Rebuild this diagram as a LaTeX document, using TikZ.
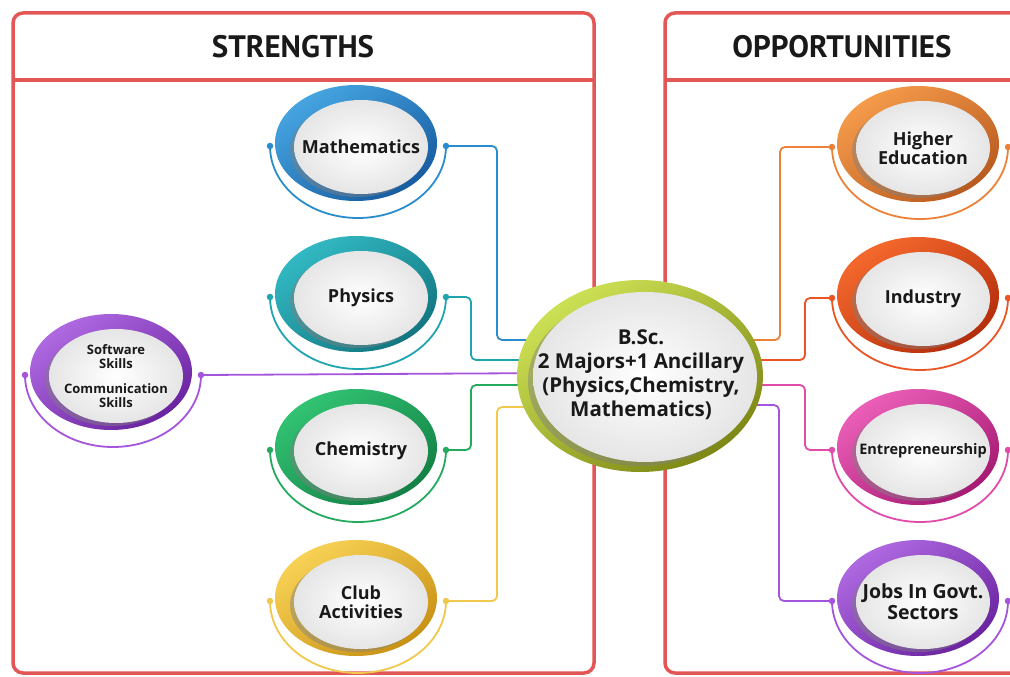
\documentclass[tikz,border=0pt]{standalone}
\usepackage{fontspec}
\setmainfont{Open Sans}
\newfontfamily\headfont{PT Sans}
\usetikzlibrary{shadows,calc}
\definecolor{boxred}{RGB}{226,86,86}
\definecolor{blueD}{RGB}{22,92,160}\definecolor{blueL}{RGB}{70,165,225}\definecolor{blueC}{RGB}{40,140,205}
\definecolor{tealD}{RGB}{18,118,128}\definecolor{tealL}{RGB}{50,185,195}\definecolor{tealC}{RGB}{30,165,175}
\definecolor{greenD}{RGB}{18,128,68}\definecolor{greenL}{RGB}{50,195,115}\definecolor{greenC}{RGB}{35,170,95}
\definecolor{goldD}{RGB}{200,145,20}\definecolor{goldL}{RGB}{248,210,85}\definecolor{goldC}{RGB}{240,200,75}
\definecolor{purpD}{RGB}{105,35,160}\definecolor{purpL}{RGB}{175,105,225}\definecolor{purpC}{RGB}{165,85,220}
\definecolor{oranD}{RGB}{185,90,30}\definecolor{oranL}{RGB}{245,155,75}\definecolor{oranC}{RGB}{235,130,55}
\definecolor{redD}{RGB}{180,45,10}\definecolor{redL}{RGB}{245,105,45}\definecolor{redC}{RGB}{235,85,35}
\definecolor{pinkD}{RGB}{165,25,115}\definecolor{pinkL}{RGB}{235,95,185}\definecolor{pinkC}{RGB}{225,75,170}
\definecolor{limeD}{RGB}{125,135,20}\definecolor{limeL}{RGB}{205,225,85}
\tikzset{
  conn/.style={line width=1.8pt, rounded corners=5pt},
  txt/.style={font=\bfseries\fontsize{18}{19.5}\selectfont, align=center, text=black!90, inner sep=0pt},
  jobtxt/.style={font=\bfseries\fontsize{19.5}{21}\selectfont, align=center, text=black!90, inner sep=0pt},
  softtxt/.style={font=\bfseries\fontsize{13}{13.5}\selectfont, align=center, text=black!90, inner sep=0pt},
  entrtxt/.style={font=\bfseries\fontsize{14.5}{15}\selectfont, align=center, text=black!90, inner sep=0pt},
  head/.style={font=\headfont\bfseries\fontsize{31}{33}\selectfont, text=black!90},
  dot/.style={fill, circle, inner sep=0pt, minimum size=6.5pt},
}
% #1 name, #2 position, #3 dark, #4 light, #5 line colour, #6 text style, #7 text
\newcommand{\ringnode}[7]{%
  \begin{scope}[shift={#2}]
    \draw[#5, line width=1.8pt] (-88pt,0pt) arc[start angle=180, end angle=360, x radius=88pt, y radius=72pt];
    \node[dot, #5] (#1-L) at (-88pt,0pt) {};
    \node[dot, #5] (#1-R) at (88pt,0pt) {};
    \shade[top color=#4, bottom color=#3, shading angle=35] (-2pt,3pt) ellipse[x radius=81pt, y radius=58pt];
    \shade[inner color=white, outer color=black!10, drop shadow={shadow xshift=-4pt, shadow yshift=-3pt, opacity=0.45}] (3pt,-1pt) ellipse[x radius=67pt, y radius=47pt];
    \node[#6] (#1) at (3pt,-1pt) {#7};
  \end{scope}}
\begin{document}
\begin{tikzpicture}[x=1pt, y=-1pt]
\useasboundingbox (0,0) rectangle (1010,677);
\fill[white] (0,0) rectangle (1010,677);
% frames
\begin{scope}
\clip (0,0) rectangle (1010,677);
\draw[boxred, line width=3.5pt, rounded corners=10pt] (13,13) rectangle (594,673);
\draw[boxred, line width=3.5pt] (13,80) -- (594,80);
\draw[boxred, line width=3.5pt, rounded corners=10pt] (665,13) rectangle (1040,673);
\draw[boxred, line width=3.5pt] (665,80) -- (1040,80);
\end{scope}
\node[head] (hs) at (293,47) {STRENGTHS};
\node[head] (ho) at (842,47) {OPPORTUNITIES};
% coordinates on the centre node
\coordinate (cm) at (560,340);
\coordinate (cp) at (560,360);
\coordinate (cs) at (560,373);
\coordinate (cc) at (560,385);
\coordinate (ca) at (560,407);
\coordinate (ch) at (720,340);
\coordinate (ci) at (720,360);
\coordinate (ce) at (720,385);
\coordinate (cj) at (720,405);
% nodes
\ringnode{math}{(358,146)}{blueD}{blueL}{blueC}{txt}{Mathematics}
\ringnode{phys}{(358,297)}{tealD}{tealL}{tealC}{txt}{Physics}
\ringnode{chem}{(358,450)}{greenD}{greenL}{greenC}{txt}{Chemistry}
\ringnode{club}{(358,601)}{goldD}{goldL}{goldC}{txt}{Club\\Activities}
\ringnode{soft}{(113,375)}{purpD}{purpL}{purpC}{softtxt}{Software\\Skills\\[12pt]Communication\\Skills}
\ringnode{high}{(920,147)}{oranD}{oranL}{oranC}{txt}{Higher\\Education}
\ringnode{indu}{(920,298)}{redD}{redL}{redC}{txt}{Industry}
\ringnode{entr}{(920,450)}{pinkD}{pinkL}{pinkC}{entrtxt}{Entrepreneurship}
\ringnode{jobs}{(920,601)}{purpD}{purpL}{purpC}{jobtxt}{Jobs In Govt.\\Sectors}
% connectors
\draw[conn, blueC] (math-R.center) -- (497,146) -- (497,340) -- (cm);
\draw[conn, tealC] (phys-R.center) -- (471,297) -- (471,360) -- (cp);
\draw[conn, purpC] (soft-R.center) -- (cs);
\draw[conn, greenC] (chem-R.center) -- (471,450) -- (471,385) -- (cc);
\draw[conn, goldC] (club-R.center) -- (497,601) -- (497,407) -- (ca);
\draw[conn, oranC] (high-L.center) -- (780,147) -- (780,340) -- (ch);
\draw[conn, redC] (indu-L.center) -- (805,298) -- (805,360) -- (ci);
\draw[conn, pinkC] (entr-L.center) -- (805,450) -- (805,385) -- (ce);
\draw[conn, purpC] (jobs-L.center) -- (779,601) -- (779,405) -- (cj);
% centre node
\shade[top color=limeL, bottom color=limeD, shading angle=35] (640,376) ellipse[x radius=123pt, y radius=96pt];
\shade[inner color=white, outer color=black!10, drop shadow={shadow xshift=-5pt, shadow yshift=-4pt, opacity=0.45}] (645,377) ellipse[x radius=112pt, y radius=85pt];
\node[font=\bfseries\fontsize{20.5}{24}\selectfont, align=center, text=black!90, inner sep=0pt] (centre) at (641,375) {B.Sc.\\2 Majors+1 Ancillary\\(Physics,Chemistry,\\Mathematics)};
\end{tikzpicture}
\end{document}
